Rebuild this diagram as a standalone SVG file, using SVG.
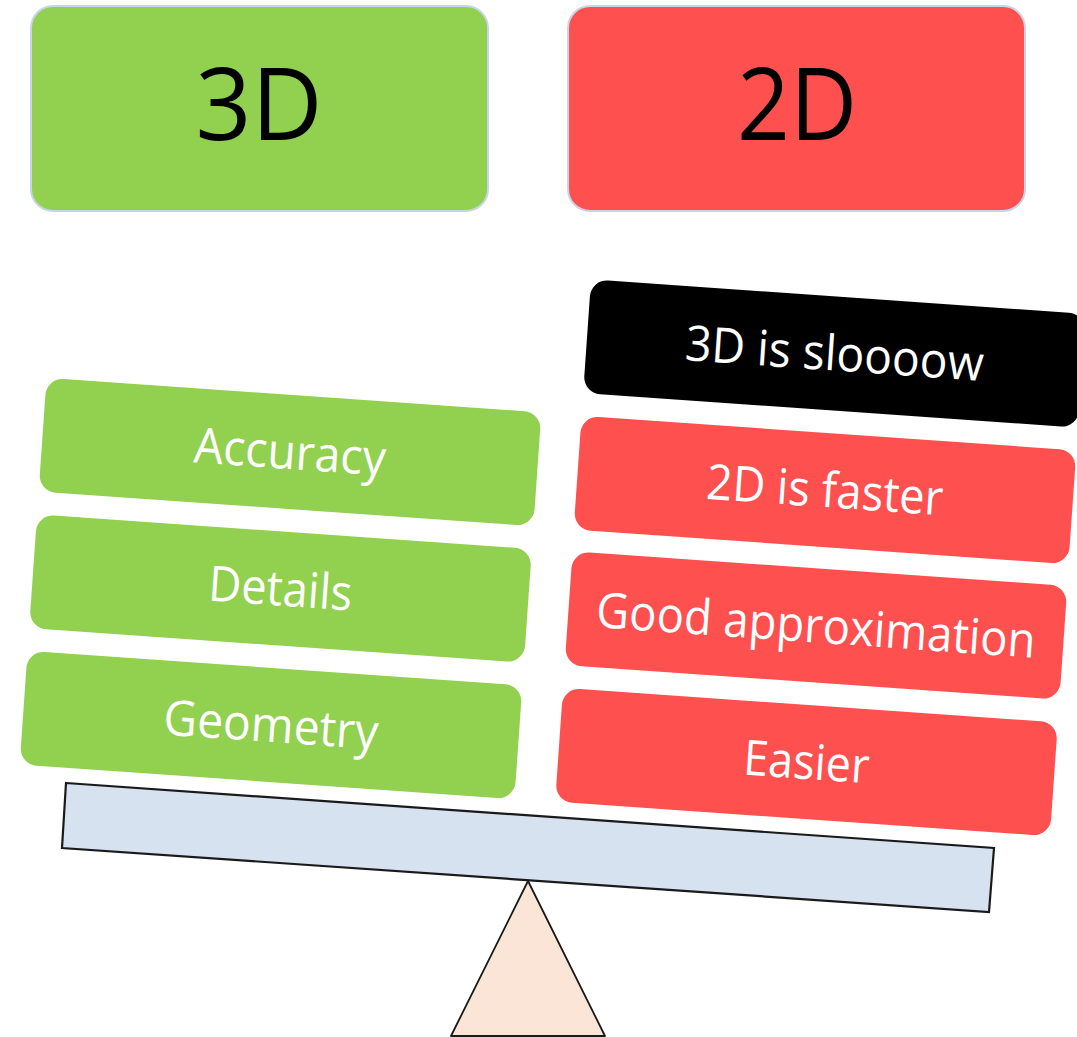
<svg xmlns="http://www.w3.org/2000/svg" width="1077" height="1037" viewBox="0 0 1077 1037">
  <style>
    .hdr { stroke: #C8D5E8; stroke-width: 2; }
    .green { fill: #92D050; }
    .red { fill: #FF5050; }
    .black { fill: #000000; }
    .hdr-text { font-family: "Open Sans", "Liberation Sans", sans-serif; font-size: 101px; fill: #000000; text-anchor: middle; }
    .item-text { font-family: "Open Sans", "Liberation Sans", sans-serif; font-size: 49px; fill: #FFFFFF; text-anchor: middle; }
    .item { }
  </style>
  <defs>
    <!-- one tilted card, centred on its local origin -->
    <rect id="card" x="-248" y="-57" width="496" height="114" rx="17" ry="17"/>
  </defs>

  <rect width="1077" height="1037" fill="#FFFFFF"/>

  <!-- column headers -->
  <g id="header-3d">
    <rect class="hdr green" x="31" y="6" width="457" height="205" rx="22" ry="22"/>
    <text class="hdr-text" x="259" y="140" textLength="127" lengthAdjust="spacingAndGlyphs">3D</text>
  </g>
  <g id="header-2d">
    <rect class="hdr red" x="568" y="6" width="457" height="205" rx="22" ry="22"/>
    <text class="hdr-text" x="797" y="140" textLength="120" lengthAdjust="spacingAndGlyphs">2D</text>
  </g>

  <!-- fulcrum and beam -->
  <g id="fulcrum">
    <polygon points="528,881 451,1036 605,1036" fill="#FBE5D6" stroke="#1A1A1A" stroke-width="1.8" stroke-linejoin="round"/>
  </g>
  <g id="beam">
    <polygon points="66,783 994,848 989,912 62,848" fill="#D6E2F0" stroke="#1A1A1A" stroke-width="2.2" stroke-linejoin="miter"/>
  </g>

  <!-- 3D side weights -->
  <g id="accuracy" transform="translate(290,452) rotate(4)">
    <use href="#card" class="green"/>
    <text class="item-text" x="0" y="17" textLength="192" lengthAdjust="spacingAndGlyphs">Accuracy</text>
  </g>
  <g id="details" transform="translate(280.5,588.5) rotate(4)">
    <use href="#card" class="green"/>
    <text class="item-text" x="0" y="17" textLength="144" lengthAdjust="spacingAndGlyphs">Details</text>
  </g>
  <g id="geometry" transform="translate(271,725) rotate(4)">
    <use href="#card" class="green"/>
    <text class="item-text" x="0" y="17" textLength="215" lengthAdjust="spacingAndGlyphs">Geometry</text>
  </g>

  <!-- 2D side weights -->
  <g id="slow" transform="translate(834.5,353.5) rotate(4)">
    <use href="#card" class="black"/>
    <text class="item-text" x="0" y="17" textLength="299" lengthAdjust="spacingAndGlyphs">3D is sloooow</text>
  </g>
  <g id="faster" transform="translate(825,490) rotate(4)">
    <use href="#card" class="red"/>
    <text class="item-text" x="0" y="17" textLength="237" lengthAdjust="spacingAndGlyphs">2D is faster</text>
  </g>
  <g id="approximation" transform="translate(816,625.5) rotate(4)">
    <use href="#card" class="red"/>
    <text class="item-text" x="0" y="17" textLength="440" lengthAdjust="spacingAndGlyphs">Good approximation</text>
  </g>
  <g id="easier" transform="translate(806.5,762) rotate(4)">
    <use href="#card" class="red"/>
    <text class="item-text" x="0" y="17" textLength="126" lengthAdjust="spacingAndGlyphs">Easier</text>
  </g>

  <!-- no connectors in this figure -->
  <g id="connectors"/>
</svg>
